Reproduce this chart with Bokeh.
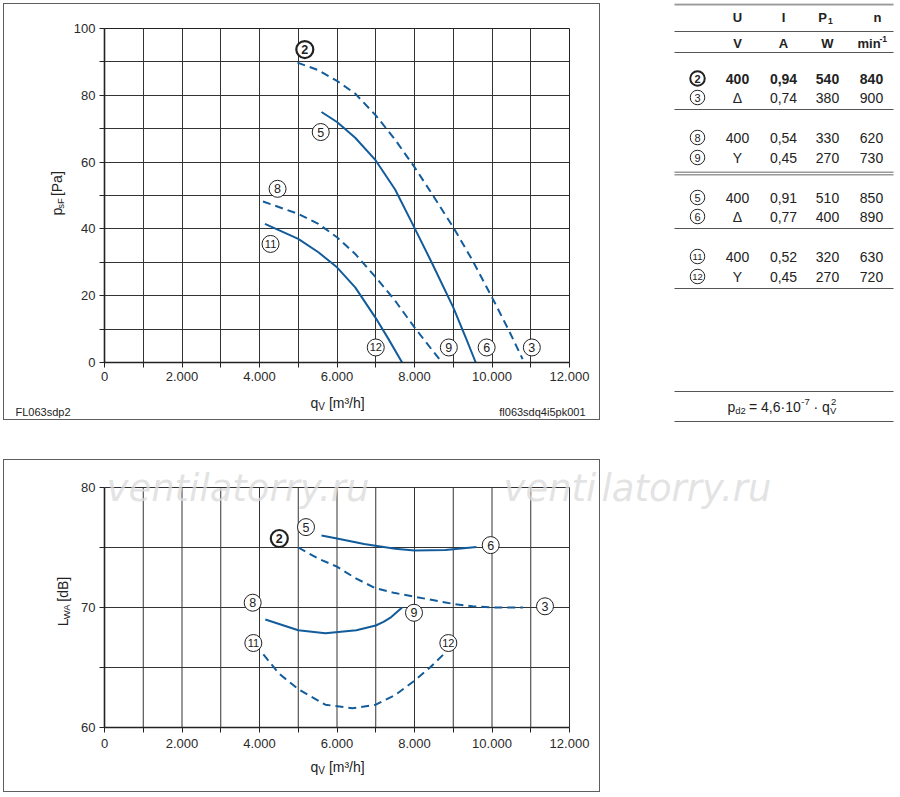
import math
from bokeh.plotting import figure
from bokeh.models import Range1d, FixedTicker, Label, Spacer, ColumnDataSource
from bokeh.layouts import column, row
from bokeh.core.properties import value
from bokeh.embed import file_html
from bokeh.resources import INLINE

FONT = "Liberation Sans"
BLUE = "#125c9b"
INK = "#222222"
GRID = "#333333"
BORDER = "#5e5e5e"

# ---------------- data ----------------
q_ticks = [0, 1000, 2000, 3000, 4000, 5000, 6000, 7000, 8000, 9000, 10000, 11000, 12000]
q_tick_labels = ["0", "", "2.000", "", "4.000", "", "6.000", "", "8.000", "", "10.000", "", "12.000"]
p_ticks = [0, 10, 20, 30, 40, 50, 60, 70, 80, 90, 100]
p_tick_labels = ["0", "", "20", "", "40", "", "60", "", "80", "", "100"]
L_ticks = [60, 65, 70, 75, 80]
L_tick_labels = ["60", "", "70", "", "80"]

# static pressure curves  p_sF [Pa] vs q_V [m3/h]
p23_q = [4980, 5520, 6000, 6470, 7000, 7500, 8000, 8450, 9000, 9500, 10000, 10440, 10790]
p23_p = [89.8, 87.5, 84.3, 80.5, 74.0, 66.7, 58.5, 50.5, 40.5, 30.5, 19.5, 9.5, 1.0]
p56_q = [5600, 6000, 6470, 7000, 7500, 8000, 8450, 9000, 9320, 9580]
p56_p = [75.0, 72.0, 67.3, 60.5, 51.8, 40.3, 29.8, 16.5, 7.5, 0.0]
p89_q = [4090, 5000, 5520, 6000, 6470, 7000, 7500, 8000, 8450, 8710]
p89_p = [48.2, 44.5, 41.5, 37.5, 32.5, 25.5, 18.5, 10.5, 3.8, 0.0]
p1112_q = [4140, 5000, 5520, 6000, 6470, 7000, 7330, 7680]
p1112_p = [41.5, 37.0, 33.0, 28.5, 22.5, 13.3, 7.0, 0.0]

# sound power curves  L_WA [dB] vs q_V [m3/h]
L23_q = [5000, 5500, 6000, 6500, 7000, 7500, 8000, 8500, 9000, 9500, 10000, 10800]
L23_L = [75.0, 74.1, 73.4, 72.4, 71.6, 71.2, 70.9, 70.6, 70.3, 70.1, 70.0, 70.0]
L56_q = [5600, 6000, 6700, 7500, 8000, 8800, 9600]
L56_L = [76.0, 75.75, 75.3, 74.9, 74.75, 74.8, 75.05]
L89_q = [4150, 5000, 5700, 6500, 7000, 7200, 7400, 7680]
L89_L = [69.0, 68.1, 67.85, 68.1, 68.5, 68.8, 69.2, 70.0]
L1112_q = [4100, 4500, 5000, 5700, 6400, 7000, 7500, 8000, 8400, 8750]
L1112_L = [66.1, 64.5, 63.2, 61.9, 61.6, 61.9, 62.7, 63.9, 65.0, 66.1]

# curve markers (circled numbers)
top_mark_text = ["2", "5", "8", "11", "12", "9", "6", "3"]
top_mark_q = [5169, 5580, 4466, 4285, 7000, 8886, 9862, 11028]
top_mark_p = [93.7, 69.0, 52.0, 35.5, 4.5, 4.5, 4.5, 4.5]
bot_mark_text = ["5", "2", "6", "3", "8", "9", "11", "12"]
bot_mark_q = [5200, 4511, 9966, 11368, 3824, 7987, 3841, 8873]
bot_mark_L = [76.7, 75.75, 75.2, 70.1, 70.4, 69.56, 67.04, 67.04]

# table
tab_curve = ["2", "3", "8", "9", "5", "6", "11", "12"]
tab_U = ["400", "Δ", "400", "Y", "400", "Δ", "400", "Y"]
tab_I = ["0,94", "0,74", "0,54", "0,45", "0,91", "0,77", "0,52", "0,45"]
tab_P1 = ["540", "380", "330", "270", "510", "400", "320", "270"]
tab_n = ["840", "900", "620", "730", "850", "890", "630", "720"]

WM = "ventilatorry.ru"


# ---------------- helpers ----------------
def strip(w, h, x0, y0):
    """Figure whose frame is the whole canvas, with page-pixel coordinates."""
    f = figure(width=w, height=h, x_range=Range1d(x0, x0 + w), y_range=Range1d(y0 + h, y0),
               output_backend="svg", toolbar_location=None, min_border=0,
               x_axis_location=None, y_axis_location=None)
    f.outline_line_color = None
    f.grid.visible = False
    f.background_fill_color = "white"
    f.border_fill_color = "white"
    return f


def lab(f, x, y, text, size, angle=0.0, align="left", baseline="middle", style="normal",
        color=INK, font=FONT, alpha=1.0):
    f.add_layout(Label(x=x, y=y, text=text, text_font=font, text_font_size=size,
                       text_font_style=style, text_color=color, text_alpha=alpha, angle=angle,
                       text_align=align, text_baseline=baseline))


def hline(w):
    return Spacer(width=w, height=1, styles={"background-color": BORDER})


def vline(h):
    return Spacer(width=1, height=h, styles={"background-color": BORDER})


def style_axes(p, yticks, ylabels, xstand):
    p.xaxis.ticker = FixedTicker(ticks=q_ticks)
    p.xaxis.major_label_overrides = {t: s for t, s in zip(q_ticks, q_tick_labels)}
    p.yaxis.ticker = FixedTicker(ticks=yticks)
    p.yaxis.major_label_overrides = {t: s for t, s in zip(yticks, ylabels)}
    for ax in (p.xaxis[0], p.yaxis[0]):
        ax.axis_line_color = INK
        ax.axis_line_width = 1.6
        ax.major_tick_line_color = INK
        ax.major_tick_line_width = 1
        ax.major_tick_out = 5
        ax.major_tick_in = 0
        ax.minor_tick_line_color = None
        ax.major_label_text_font = FONT
        ax.major_label_text_font_size = "13px"
        ax.major_label_text_color = "#2a2a2a"
    p.xaxis.major_label_standoff = xstand
    p.yaxis.major_label_standoff = 4


def markers(p, xs, ys, texts, size=17):
    bold = ["bold" if t == "2" else "normal" for t in texts]
    lw = [2.2 if t == "2" else 1.0 for t in texts]
    fs = ["11px" if len(t) > 1 else "12.5px" for t in texts]
    src = ColumnDataSource(dict(x=xs, y=ys, t=texts, b=bold, lw=lw, fs=fs))
    p.scatter("x", "y", source=src, marker="circle", size=size, fill_color="white",
              line_color=INK, line_width="lw")
    p.text("x", "y", text="t", source=src, text_font=value(FONT), text_font_size="fs",
           text_font_style="b", text_align="center", text_baseline="middle", text_color=INK)


def curve(p, xs, ys, dashed):
    p.line(xs, ys, line_color=BLUE, line_width=2, line_join="round",
           line_dash="8 5" if dashed else "solid")


# ================= TOP PANEL (pressure) =================
# chart: page x 70..599, y 4..388 ; frame x 104..569, y 28..362
top = figure(width=529, height=384, x_range=Range1d(0, 12000), y_range=Range1d(0, 100),
             output_backend="svg", toolbar_location=None,
             min_border_left=34, min_border_right=30, min_border_top=24, min_border_bottom=26)
top.outline_line_color = INK
top.border_fill_color = "white"
style_axes(top, p_ticks, p_tick_labels, 4)
top.grid.grid_line_color = GRID
top.grid.grid_line_width = 1
curve(top, p23_q, p23_p, True)
curve(top, p56_q, p56_p, False)
curve(top, p89_q, p89_p, True)
curve(top, p1112_q, p1112_p, False)
markers(top, top_mark_q, top_mark_p, top_mark_text)

L1 = strip(66, 384, 4, 4)
rot = math.pi / 2
lab(L1, 56, 219, "p", "14px", angle=rot)
lab(L1, 59.5, 211.2, "sF", "9.5px", angle=rot)
lab(L1, 56, 196.7, "[Pa]", "14px", angle=rot)

B1 = strip(595, 31, 4, 388)
lab(B1, 310, 402, "q", "14px")
lab(B1, 317.8, 405.5, "V", "10px")
lab(B1, 328.4, 402, "[m³/h]", "14px")
lab(B1, 15, 411.5, "FL063sdp2", "11px")
lab(B1, 585, 411.5, "fl063sdq4i5pk001", "11px", align="right")

inner1 = column(row(L1, top), B1)
panel1 = column(hline(597), row(vline(415), inner1, vline(415)), hline(597))

# ================= TABLE =================
tab = strip(297, 420, 600, 3)
row_y = [78, 97, 137, 157, 197, 216, 256, 276]
col_x = {"c": 697, "U": 737, "I": 783, "P": 827, "n": 871}
dark_rules = [31, 52, 109, 228, 288, 391, 421]
gray_rules = [3.8, 171.7, 174.3]
tab.segment(x0=[674] * len(dark_rules), y0=dark_rules, x1=[893] * len(dark_rules), y1=dark_rules,
            line_color="#555555", line_width=1.2)
tab.segment(x0=[674] * len(gray_rules), y0=gray_rules, x1=[893] * len(gray_rules), y1=gray_rules,
            line_color="#9a9a9a", line_width=[2.2, 1.4, 1.4])

bold = ["bold" if i == 0 else "normal" for i in range(len(tab_U))]
tsrc = ColumnDataSource(dict(y=row_y, c=tab_curve, U=tab_U, I=tab_I, P=tab_P1, n=tab_n, b=bold,
                             cx=[col_x["c"]] * len(row_y),
                             lw=[2.0 if i == 0 else 1.0 for i in range(len(row_y))],
                             fs=["9.5px" if len(c) > 1 else "11px" for c in tab_curve]))
for key in ("U", "I", "P", "n"):
    tab.text(x=col_x[key], y="y", text=key, source=tsrc, text_font=value(FONT), text_font_size="14px",
             text_font_style="b", text_align="center", text_baseline="middle", text_color=INK)
tab.scatter("cx", "y", source=tsrc, marker="circle", size=14.5, fill_color="white",
            line_color=INK, line_width="lw")
tab.text("cx", "y", text="c", source=tsrc, text_font=value(FONT), text_font_size="fs",
         text_font_style="b", text_align="center", text_baseline="middle", text_color=INK)

hdr = dict(text_font=value(FONT), text_font_style="bold", text_color=INK, text_baseline="middle")
tab.text(x=[col_x["U"], col_x["I"], 877], y=[17, 17, 17], text=["U", "I", "n"],
         text_font_size="13px", text_align="center", **hdr)
tab.text(x=[822], y=[17], text=["P"], text_font_size="13px", text_align="center", **hdr)
tab.text(x=[827.5], y=[20], text=["1"], text_font_size="8.5px", text_align="left", **hdr)
tab.text(x=[col_x["U"], col_x["I"], col_x["P"]], y=[43, 43, 43], text=["V", "A", "W"],
         text_font_size="13px", text_align="center", **hdr)
tab.text(x=[857], y=[43], text=["min"], text_font_size="13px", text_align="left", **hdr)
tab.text(x=[879], y=[38.5], text=["-1"], text_font_size="8.5px", text_align="left", **hdr)

# formula p_d2 = 4,6·10^-7 · q_V^2
fml = dict(text_font=value(FONT), text_color=INK, text_baseline="middle", text_align="left")
tab.text(x=[727], y=[406], text=["p"], text_font_size="14px", **fml)
tab.text(x=[734.8], y=[409.5], text=["d2"], text_font_size="9.5px", **fml)
tab.text(x=[748.5], y=[406], text=["= 4,6·10"], text_font_size="14px", **fml)
tab.text(x=[800.8], y=[401], text=["-7"], text_font_size="9.5px", **fml)
tab.text(x=[813], y=[406], text=["· q"], text_font_size="14px", **fml)
tab.text(x=[829.5], y=[409.5], text=["V"], text_font_size="9.5px", **fml)
tab.text(x=[830.5], y=[401], text=["2"], text_font_size="9.5px", **fml)

# ================= BOTTOM PANEL (sound power) =================
# chart: page x 72..599, y 460..753 ; frame x 104..599, y 460..727 (80 dB at y 487)
Q_END = 12000 * 495 / 465.0
L_END = 60 + 20 * 267 / 240.0
bot = figure(width=527, height=293, x_range=Range1d(0, Q_END), y_range=Range1d(60, L_END),
             output_backend="svg", toolbar_location=None,
             min_border_left=32, min_border_right=0, min_border_top=0, min_border_bottom=26)
bot.outline_line_color = None
bot.border_fill_color = "white"
style_axes(bot, L_ticks, L_tick_labels, 6)
bot.xaxis.bounds = (0, 12000)
bot.yaxis.bounds = (60, 80)
bot.grid.visible = False
# grid of the 0..12000 x 60..80 box
bot.segment(x0=q_ticks, y0=[60] * len(q_ticks), x1=q_ticks, y1=[80] * len(q_ticks),
            line_color=GRID, line_width=1)
bot.segment(x0=[0] * len(L_ticks), y0=L_ticks, x1=[12000] * len(L_ticks), y1=L_ticks,
            line_color=GRID, line_width=1)


def qx(px):
    return (px - 104.0) / 465.0 * 12000.0


def Ly(py):
    return 60.0 + (727.0 - py) / 240.0 * 20.0


# watermark, very light
lab(bot, qx(106), Ly(488), WM, "37px", baseline="alphabetic", style="italic",
    color="#dcdcdc", font="DejaVu Sans", alpha=0.8)
lab(bot, qx(503), Ly(488), "venti", "37px", baseline="alphabetic", style="italic",
    color="#dcdcdc", font="DejaVu Sans", alpha=0.8)

curve(bot, L23_q, L23_L, True)
curve(bot, L56_q, L56_L, False)
curve(bot, L89_q, L89_L, False)
curve(bot, L1112_q, L1112_L, True)
markers(bot, bot_mark_q, bot_mark_L, bot_mark_text)

L2 = strip(68, 293, 4, 460)
lab(L2, 62, 642, "L", "14px", angle=rot)
lab(L2, 65.5, 634.2, "WA", "9.5px", angle=rot)
lab(L2, 62, 615, "[dB]", "14px", angle=rot)

B2 = strip(595, 38, 4, 753)
lab(B2, 310, 766, "q", "14px")
lab(B2, 317.8, 769.5, "V", "10px")
lab(B2, 328.4, 766, "[m³/h]", "14px")

inner2 = column(row(L2, bot), B2)
panel2 = column(hline(597), row(vline(331), inner2, vline(331)), hline(597))

# right-hand part of the second watermark (beside the lower chart)
wm = strip(297, 80, 600, 430)
lab(wm, 601, 488, "latorry.ru", "37px", baseline="alphabetic", style="italic",
    color="#dcdcdc", font="DejaVu Sans", alpha=0.8)

left_col = column(panel1, Spacer(width=10, height=39), panel2)
right_col = column(tab, Spacer(width=10, height=7), wm)
content = row(left_col, right_col)
root = row(Spacer(width=3, height=10), column(Spacer(width=10, height=3), content))

open("out.html", "w").write(file_html(root, INLINE))
